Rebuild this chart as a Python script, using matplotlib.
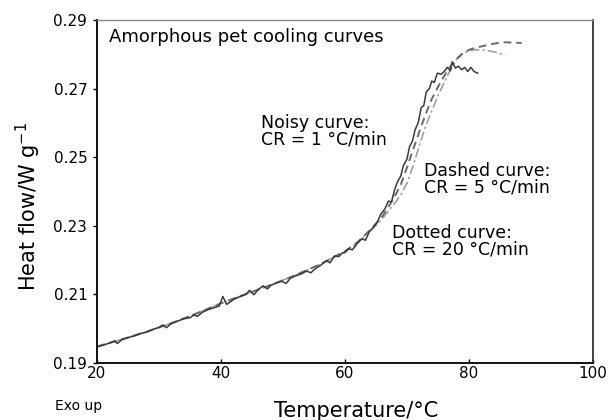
import matplotlib.pyplot as plt

# noisy curve, CR = 1 C/min
noisy_t = [20, 21, 22, 22.8, 23.3, 24, 25, 26, 27, 28, 29, 30, 30.6, 31.2, 32, 33, 34, 35,
           35.6, 36.2, 37, 38, 39, 39.7, 40.3, 40.9, 41.5, 42, 43, 44, 44.6, 45.3, 46, 46.8,
           47.5, 48, 49, 49.8, 50.5, 51.2, 52, 53, 53.8, 54.5, 55.2, 56, 57, 57.6, 58.3, 59,
           59.5, 60, 60.6, 61.2, 62, 62.7, 63.3, 64, 64.6, 65.2, 65.8, 66.4, 67, 67.5, 68,
           68.5, 69, 69.4, 70, 70.4, 70.9, 71.3, 71.8, 72.3, 72.7, 73.1, 73.6, 74, 74.4, 74.9,
           75.5, 76, 76.5, 77, 77.3, 77.8, 78.3, 78.8, 79.3, 79.8, 80.3, 80.8, 81.4]
noisy_hf = [0.1947, 0.1952, 0.1958, 0.1964, 0.1957, 0.1968, 0.1974, 0.1979, 0.1986, 0.1990,
            0.1998, 0.2004, 0.2011, 0.2003, 0.2015, 0.2022, 0.2029, 0.2032, 0.2040, 0.2036,
            0.2048, 0.2056, 0.2062, 0.2066, 0.2094, 0.2071, 0.2078, 0.2085, 0.2093, 0.2100,
            0.2112, 0.2099, 0.2114, 0.2125, 0.2116, 0.2126, 0.2134, 0.2138, 0.2132, 0.2147,
            0.2154, 0.2160, 0.2168, 0.2163, 0.2175, 0.2184, 0.2198, 0.2192, 0.2212, 0.2210,
            0.2220, 0.2222, 0.2233, 0.2230, 0.2249, 0.2262, 0.2258, 0.2285, 0.2296, 0.2310,
            0.2335, 0.2348, 0.2372, 0.2370, 0.2405, 0.2430, 0.2445, 0.2475, 0.2495, 0.2530,
            0.2548, 0.2580, 0.2600, 0.2645, 0.2650, 0.2690, 0.2700, 0.2722, 0.2718, 0.2745,
            0.2742, 0.2750, 0.2762, 0.2752, 0.2778, 0.2760, 0.2765, 0.2755, 0.2762, 0.2750,
            0.2762, 0.2750, 0.2745]

# dashed curve, CR = 5 C/min
dashed_t = [20, 24, 28, 32, 36, 40, 44, 48, 52, 56, 60, 62, 64, 66, 67, 68, 69, 70, 71, 72,
            73, 74, 75, 76, 77, 78, 79, 80, 81, 82, 83, 84, 85, 86, 87, 88.5]
dashed_hf = [0.1948, 0.1969, 0.1991, 0.2016, 0.2044, 0.2074, 0.2101, 0.2127, 0.2156, 0.2188,
             0.2226, 0.2252, 0.2287, 0.2327, 0.2355, 0.2385, 0.2420, 0.2470, 0.2523, 0.2575,
             0.2625, 0.2670, 0.2705, 0.2737, 0.2765, 0.2787, 0.2803, 0.2813, 0.2819, 0.2823,
             0.2827, 0.2831, 0.2834, 0.2835, 0.2834, 0.2833]

# dotted (dash-dot) curve, CR = 20 C/min
dotted_t = [20, 24, 28, 32, 36, 40, 44, 48, 52, 56, 60, 62, 64, 66, 67, 68, 69, 70, 71, 72,
            73, 74, 75, 76, 77, 78, 79, 80, 81, 82, 83, 84, 85, 85.8]
dotted_hf = [0.1948, 0.1969, 0.1991, 0.2016, 0.2044, 0.2074, 0.2101, 0.2127, 0.2156, 0.2188,
             0.2225, 0.2250, 0.2283, 0.2320, 0.2343, 0.2365, 0.2390, 0.2425, 0.2475, 0.2535,
             0.2590, 0.2635, 0.2680, 0.2718, 0.2755, 0.2785, 0.2802, 0.2810, 0.2813, 0.2813,
             0.2811, 0.2807, 0.2802, 0.2797]

x_ticks = [20, 40, 60, 80, 100]
y_ticks = [0.19, 0.21, 0.23, 0.25, 0.27, 0.29]

fig = plt.figure(figsize=(6.09, 4.20), dpi=100)
ax = fig.add_axes([97 / 609, 1 - 363 / 420, 496 / 609, 343 / 420])

ax.plot(dotted_t, dotted_hf, color='#9a9a9a', lw=1.1, dashes=(6, 2, 1.5, 2))
ax.plot(dashed_t, dashed_hf, color='#6a6a6a', lw=1.4, dashes=(4, 2.5))
ax.plot(noisy_t, noisy_hf, color='#3a3a3a', lw=1.1)

ax.set_xlim(20, 100)
ax.set_ylim(0.19, 0.29)
ax.set_xticks(x_ticks)
ax.set_yticks(y_ticks)
ax.set_xticklabels([str(t) for t in x_ticks])
ax.set_yticklabels([f'{v:.2f}' for v in y_ticks])
ax.tick_params(axis='x', direction='in', length=3, width=1, pad=2.5, labelsize=11)
ax.tick_params(axis='y', direction='out', length=3, width=1, pad=4, labelsize=11)

for side in ['left', 'bottom']:
    ax.spines[side].set_linewidth(1.4)
    ax.spines[side].set_color('#111111')
ax.spines['right'].set_linewidth(1.2)
ax.spines['right'].set_color('#222222')
ax.spines['top'].set_linewidth(1.0)
ax.spines['top'].set_color('#888888')

# annotations, one text per line
ax.text(21.94, 0.28359, 'Amorphous pet cooling curves', fontsize=13, va='baseline')
ax.text(46.45, 0.25843, 'Noisy curve:', fontsize=12.5, va='baseline')
ax.text(46.45, 0.25356, 'CR = 1 \u00b0C/min', fontsize=12.5, va='baseline')
ax.text(72.79, 0.24461, 'Dashed curve:', fontsize=12.5, va='baseline')
ax.text(72.79, 0.23977, 'CR = 5 \u00b0C/min', fontsize=12.5, va='baseline')
ax.text(67.63, 0.22653, 'Dotted curve:', fontsize=12.5, va='baseline')
ax.text(67.63, 0.22169, 'CR = 20 \u00b0C/min', fontsize=12.5, va='baseline')

fig.text(28 / 609, 1 - 206 / 420, 'Heat flow/W g$^{-1}$', rotation=90, fontsize=15,
         ha='center', va='center')
fig.text(356 / 609, 1 - 416.7 / 420, 'Temperature/\u00b0C', fontsize=15, ha='center',
         va='baseline')
fig.text(55 / 609, 1 - 406 / 420, 'Exo up', fontsize=10, ha='left', va='center')

fig.savefig('out.png', dpi=100)
